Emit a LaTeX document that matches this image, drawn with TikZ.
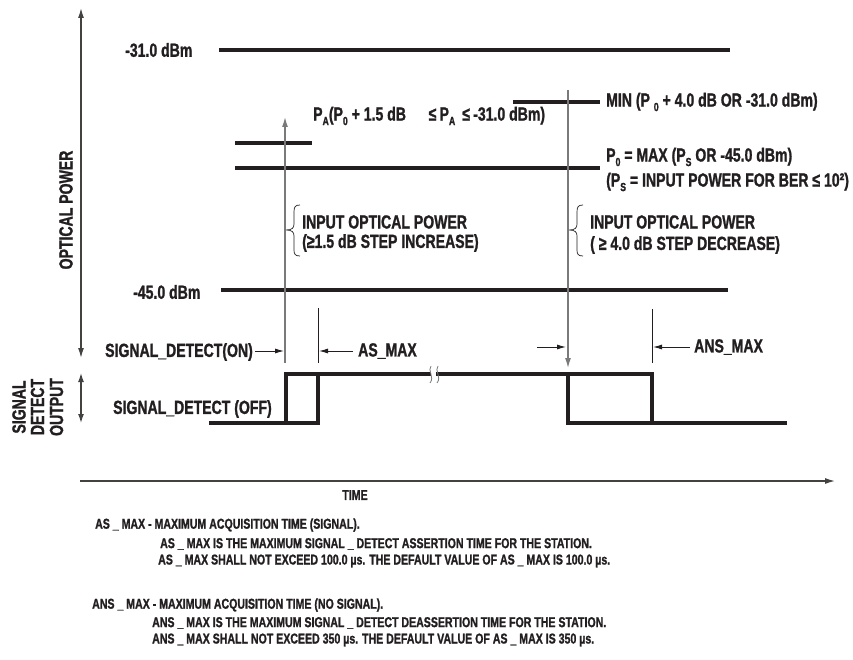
\documentclass[tikz,border=0pt]{standalone}
\usepackage{fontspec}
\setmainfont{Liberation Sans}[FakeStretch=0.74, BoldFeatures={FakeBold=1.2}]
\usetikzlibrary{arrows.meta}
\definecolor{ink}{HTML}{231F20}
\definecolor{guidegray}{HTML}{7A7A7A}
\newcommand\lo[1]{\raisebox{-0.45ex}{\scalebox{0.62}{#1}}}
\tikzset{
  lab/.style={font=\fontsize{19}{21}\selectfont\bfseries, text=ink, inner sep=0pt, anchor=west},
  note/.style={font=\fontsize{14.3}{16}\selectfont\bfseries, text=ink, inner sep=0pt, anchor=west},
  level/.style={line width=4pt, draw=ink},
  wave/.style={line width=4pt, draw=ink, line join=miter, line cap=rect},
  axisline/.style={line width=1.3pt, draw=ink!85},
  guideline/.style={line width=1.3pt, draw=guidegray},
  tickline/.style={line width=1pt, draw=ink},
  bigtip/.style={-{Latex[length=10pt,width=6pt]}},
  smalltip/.style={-{Latex[length=9pt,width=5pt]}},
}
\begin{document}
\begin{tikzpicture}[x=1pt,y=-1pt]
\useasboundingbox (0,0) rectangle (853,660);
% coordinates
\coordinate (yTop) at (81,8);
\coordinate (yBot) at (81,358);
\coordinate (sTop) at (81,373);
\coordinate (sBot) at (81,423);
\coordinate (tL) at (80,481);
\coordinate (tR) at (835,481);
\coordinate (upB) at (285,363);
\coordinate (upT) at (285,117);
\coordinate (dnT) at (568,90);
\coordinate (dnB) at (568,368);
% axes
\draw[axisline,{Latex[length=10pt,width=6pt]}-{Latex[length=10pt,width=6pt]}] (yTop) -- (yBot);
\draw[axisline,{Latex[length=9pt,width=6pt]}-{Latex[length=9pt,width=6pt]}] (sTop) -- (sBot);
\draw[axisline,bigtip] (tL) -- (tR);
% power levels
\draw[level] (219,50) -- (730,50);
\draw[level] (235,143) -- (312,143);
\draw[level] (235,168) -- (600,168);
\draw[level] (513,102) -- (600,102);
\draw[level] (221,290) -- (728,290);
% power step arrows
\draw[guideline,bigtip] (upB) -- (upT);
\draw[guideline,bigtip] (dnT) -- (dnB);
% braces
\draw[ink,line width=0.7pt] (300,205) .. controls (295,205) and (294,207) .. (294,212) -- (294,224) .. controls (294,228) and (292,230) .. (286,230) .. controls (292,230) and (294,232) .. (294,236) -- (294,250) .. controls (294,254) and (295,256) .. (300,256);
\draw[ink,line width=0.7pt] (583,205) .. controls (578,205) and (577,207) .. (577,212) -- (577,224) .. controls (577,228) and (575,230) .. (569,230) .. controls (575,230) and (577,232) .. (577,236) -- (577,250) .. controls (577,254) and (578,256) .. (583,256);
% timing ticks
\coordinate (asT) at (318,308);
\coordinate (asB) at (318,363);
\coordinate (ansT) at (652,309);
\coordinate (ansB) at (652,363);
\draw[tickline] (asT) -- (asB);
\draw[tickline] (ansT) -- (ansB);
\coordinate (onA) at (255,351);
\coordinate (onB) at (284,351);
\coordinate (asA) at (353,351);
\coordinate (asC) at (319,351);
\coordinate (offA) at (537,347);
\coordinate (offB) at (566,347);
\coordinate (ansA) at (690,347);
\coordinate (ansC) at (653,347);
\draw[tickline,smalltip] (onA) -- (onB);
\draw[tickline,smalltip] (asA) -- (asC);
\draw[tickline,smalltip] (offA) -- (offB);
\draw[tickline,smalltip] (ansA) -- (ansC);
% signal detect waveform
\draw[wave] (211,423) -- (318,423) -- (318,374);
\draw[wave] (286,423) -- (286,374) -- (429,374);
\draw[wave] (438,374) -| (652,423);
\draw[wave] (568,374) |- (785,423);
\draw[guidegray,line width=0.8pt] (431,366) .. controls (427,370) and (435,377) .. (430,383);
\draw[guidegray,line width=0.8pt] (438,366) .. controls (434,370) and (442,377) .. (437,383);
% labels
\node[lab] (l31) at (125,50) {-31.0 dBm};
\node[lab] (l45) at (133,292) {-45.0 dBm};
\node[lab] (pa) at (313,116) {P\lo{A}(P\lo{0} + 1.5 dB \ \ \ \ \,≤\,P\lo{A} \,≤\,-31.0 dBm)};
\node[lab] (min) at (606,102) {MIN (P \lo{0} + 4.0 dB OR -31.0 dBm)};
\node[lab] (p0) at (606,157) {P\lo{0} = MAX (P\lo{S} OR -45.0 dBm)};
\node[lab] (ps) at (606,182) {(P\lo{S} = INPUT POWER FOR BER ≤ 10²)};
\node[lab] (inc1) at (302,222) {INPUT OPTICAL POWER};
\node[lab] (inc2) at (302,243) {(≥1.5 dB STEP INCREASE)};
\node[lab] (dec1) at (590,222) {INPUT OPTICAL POWER};
\node[lab] (dec2) at (590,245) {( ≥ 4.0 dB STEP DECREASE)};
\node[lab] (on) at (105,352) {SIGNAL\_DETECT(ON)};
\node[lab] (off) at (113,409) {SIGNAL\_DETECT (OFF)};
\node[lab] (asmax) at (358,351) {AS\_MAX};
\node[lab] (ansmax) at (694,347) {ANS\_MAX};
\node[lab,anchor=center,rotate=90] (opt) at (66,210) {OPTICAL POWER};
\node[lab,anchor=center,rotate=90] (sd1) at (19,407) {SIGNAL};
\node[lab,anchor=center,rotate=90] (sd2) at (37.5,407) {DETECT};
\node[lab,anchor=center,rotate=90] (sd3) at (56.5,407) {OUTPUT};
\node[note,anchor=center] (time) at (355,495) {TIME};
\node[note] (n1) at (95,525) {AS \_ MAX - MAXIMUM ACQUISITION TIME (SIGNAL).};
\node[note] (n2) at (160,544) {AS \_ MAX IS THE MAXIMUM SIGNAL \_ DETECT ASSERTION TIME FOR THE STATION.};
\node[note] (n3) at (158,561) {AS \_ MAX SHALL NOT EXCEED 100.0 µs. THE DEFAULT VALUE OF AS \_ MAX IS 100.0 µs.};
\node[note] (n4) at (92,605) {ANS \_ MAX - MAXIMUM ACQUISITION TIME (NO SIGNAL).};
\node[note] (n5) at (152,623) {ANS \_ MAX IS THE MAXIMUM SIGNAL \_ DETECT DEASSERTION TIME FOR THE STATION.};
\node[note] (n6) at (152,640) {ANS \_ MAX SHALL NOT EXCEED 350 µs. THE DEFAULT VALUE OF AS \_ MAX IS 350 µs.};
\end{tikzpicture}
\end{document}
